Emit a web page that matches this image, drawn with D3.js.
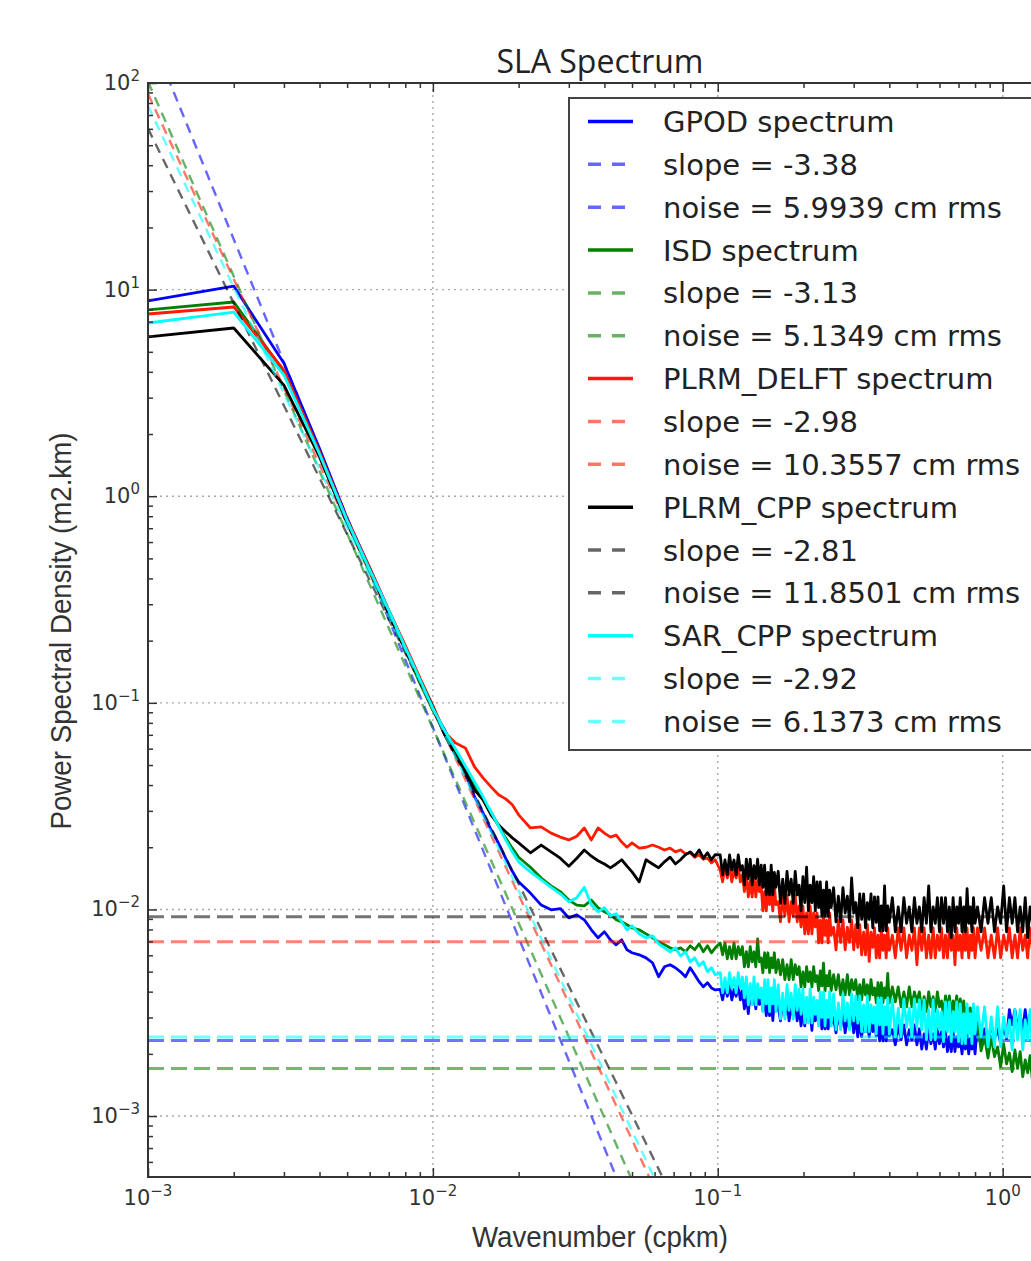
<!DOCTYPE html>
<html>
<head>
<meta charset="utf-8">
<script src="https://cdn.jsdelivr.net/npm/d3@7"></script>
<style>
  html, body { margin: 0; padding: 0; background: #fff; }
  svg { display: block; }
</style>
</head>
<body>
<div id="chart"></div>
<script>
// --- data ---
// wavenumber bins (cpkm)
const wavenumber = [
  0.001, 0.002, 0.003, 0.004, 0.005, 0.006, 0.007, 0.008, 0.009, 0.010,
  0.011, 0.012, 0.013, 0.014, 0.015, 0.016, 0.017, 0.018, 0.019, 0.020,
  0.022, 0.024, 0.026, 0.028, 0.030, 0.032, 0.034, 0.036, 0.038, 0.040, 0.042, 0.044, 0.046, 0.048, 0.050,
  0.053, 0.056, 0.059, 0.062, 0.065, 0.068, 0.071, 0.074, 0.077, 0.080, 0.083, 0.086, 0.089, 0.092, 0.095, 0.098,
  0.102, 0.104, 0.106, 0.108, 0.110, 0.112, 0.114, 0.116, 0.118, 0.120,
  0.122, 0.124, 0.126, 0.128, 0.130, 0.132, 0.134, 0.136, 0.138, 0.140,
  0.142, 0.144, 0.146, 0.148, 0.150, 0.152, 0.154, 0.156, 0.158, 0.160,
  0.163, 0.166, 0.169, 0.172, 0.175, 0.178, 0.181, 0.184, 0.187, 0.190,
  0.193, 0.196, 0.199, 0.202, 0.205, 0.208, 0.211, 0.214, 0.217, 0.220,
  0.223, 0.226, 0.229, 0.232, 0.235, 0.238, 0.241, 0.244, 0.247, 0.250,
  0.255, 0.260, 0.265, 0.270, 0.275, 0.280, 0.285, 0.290, 0.295, 0.300,
  0.305, 0.310, 0.315, 0.320, 0.325, 0.330, 0.335, 0.340, 0.345, 0.350,
  0.355, 0.360, 0.365, 0.370, 0.375, 0.380, 0.385, 0.390, 0.395, 0.400,
  0.41, 0.42, 0.43, 0.44, 0.45, 0.46, 0.47, 0.48, 0.49, 0.50,
  0.51, 0.52, 0.53, 0.54, 0.55, 0.56, 0.57, 0.58, 0.59, 0.60,
  0.61, 0.62, 0.63, 0.64, 0.65, 0.66, 0.67, 0.68, 0.69, 0.70,
  0.71, 0.72, 0.73, 0.74, 0.75, 0.76, 0.77, 0.78, 0.79, 0.80,
  0.816, 0.840, 0.864, 0.888, 0.912, 0.936, 0.960, 0.984, 1.008, 1.032,
  1.056, 1.080, 1.104, 1.128, 1.152, 1.176, 1.200, 1.224, 1.248, 1.272
];

// PSD (m2.km) per product
const gpodPsd = [
  8.81, 10.4, 4.40, 1.70, 0.78, 0.45, 0.28, 0.185, 0.128, 0.093,
  0.0740, 0.0579, 0.0458, 0.0351, 0.0293, 0.0243, 0.0209, 0.0177, 0.0153, 0.0136,
  0.0120, 0.0105, 0.00996, 0.0101, 0.0091, 0.00942, 0.00891, 0.00797, 0.00729, 0.0078, 0.00713, 0.00674, 0.00713, 0.00638, 0.00617,
  0.00603, 0.00583, 0.00552, 0.00472, 0.00528, 0.00540, 0.00522, 0.00499, 0.00472, 0.00522, 0.00483, 0.00447, 0.00422, 0.00442, 0.00417, 0.00408,
  0.00410, 0.00365, 0.00427, 0.00380, 0.00427, 0.00365, 0.00410, 0.00380, 0.00427, 0.00365,
  0.00404, 0.00330, 0.00384, 0.00313, 0.00404, 0.00347, 0.00384, 0.00330, 0.00404, 0.00347,
  0.00382, 0.00323, 0.00382, 0.00306, 0.00361, 0.00306, 0.00382, 0.00290, 0.00361, 0.00323,
  0.00341, 0.00289, 0.00361, 0.00306, 0.00361, 0.00289, 0.00341, 0.00306, 0.00361, 0.00289,
  0.00341, 0.00273, 0.00323, 0.00273, 0.00341, 0.00289, 0.00323, 0.00260, 0.00341, 0.00289,
  0.00330, 0.00279, 0.00330, 0.00264, 0.00313, 0.00264, 0.00330, 0.00264, 0.00313, 0.00279,
  0.00299, 0.00253, 0.00316, 0.00267, 0.00316, 0.00253, 0.00299, 0.00267, 0.00316, 0.00253,
  0.00302, 0.00242, 0.00286, 0.00242, 0.00302, 0.00256, 0.00286, 0.00242, 0.00302, 0.00256,
  0.00289, 0.00244, 0.00289, 0.00231, 0.00273, 0.00231, 0.00289, 0.00231, 0.00273, 0.00244,
  0.00262, 0.00221, 0.00276, 0.00234, 0.00276, 0.00221, 0.00262, 0.00234, 0.00276, 0.00221,
  0.00264, 0.00211, 0.00250, 0.00211, 0.00264, 0.00224, 0.00250, 0.00211, 0.00264, 0.00224,
  0.00256, 0.00216, 0.00256, 0.00205, 0.00242, 0.00205, 0.00256, 0.00205, 0.00242, 0.00216,
  0.00237, 0.00200, 0.00250, 0.00211, 0.00250, 0.00200, 0.00237, 0.00211, 0.00250, 0.00200,
  0.00279, 0.00224, 0.00264, 0.00224, 0.00279, 0.00237, 0.00264, 0.00224, 0.00279, 0.00237,
  0.00327, 0.00276, 0.00327, 0.00262, 0.00309, 0.00262, 0.00327, 0.00262, 0.00309, 0.00276
];

const isdPsd = [
  7.97, 8.71, 4.01, 1.62, 0.75, 0.43, 0.27, 0.18, 0.125, 0.092,
  0.0716, 0.0592, 0.0490, 0.0401, 0.0339, 0.0296, 0.0254, 0.0222, 0.0198, 0.0179,
  0.0160, 0.0142, 0.0130, 0.0122, 0.0111, 0.0105, 0.0104, 0.0111, 0.0102, 0.00974, 0.00942, 0.00891, 0.00871, 0.00843, 0.00815,
  0.00797, 0.00762, 0.00729, 0.00697, 0.00674, 0.00652, 0.00638, 0.00652, 0.00624, 0.00667, 0.00638, 0.00682, 0.00624, 0.00667, 0.00617, 0.00652,
  0.00689, 0.00603, 0.00689, 0.00577, 0.00660, 0.00577, 0.00689, 0.00577, 0.00660, 0.00603,
  0.00660, 0.00528, 0.00624, 0.00528, 0.00660, 0.00558, 0.00624, 0.00528, 0.00720, 0.00558,
  0.00583, 0.00494, 0.00617, 0.00522, 0.00617, 0.00494, 0.00583, 0.00522, 0.00617, 0.00494,
  0.00571, 0.00483, 0.00571, 0.00457, 0.00540, 0.00457, 0.00571, 0.00457, 0.00540, 0.00483,
  0.00528, 0.00422, 0.00499, 0.00422, 0.00528, 0.00447, 0.00499, 0.00422, 0.00528, 0.00447,
  0.00478, 0.00404, 0.00504, 0.00427, 0.00550, 0.00404, 0.00478, 0.00427, 0.00504, 0.00404,
  0.00483, 0.00408, 0.00483, 0.00386, 0.00457, 0.00386, 0.00483, 0.00386, 0.00457, 0.00408,
  0.00457, 0.00365, 0.00432, 0.00365, 0.00457, 0.00386, 0.00432, 0.00365, 0.00457, 0.00386,
  0.00417, 0.00353, 0.00442, 0.00373, 0.00442, 0.00353, 0.00417, 0.00373, 0.00490, 0.00353,
  0.00422, 0.00357, 0.00422, 0.00338, 0.00399, 0.00338, 0.00422, 0.00338, 0.00399, 0.00357,
  0.00399, 0.00320, 0.00378, 0.00320, 0.00399, 0.00338, 0.00378, 0.00320, 0.00399, 0.00338,
  0.00361, 0.00306, 0.00382, 0.00323, 0.00382, 0.00306, 0.00361, 0.00323, 0.00382, 0.00306,
  0.00369, 0.00309, 0.00361, 0.00286, 0.00334, 0.00276, 0.00334, 0.00259, 0.00295, 0.00256,
  0.00286, 0.00207, 0.00242, 0.00191, 0.00242, 0.00194, 0.00216, 0.00173, 0.00224, 0.00179,
  0.00202, 0.00164, 0.00209, 0.00170, 0.00205, 0.00155, 0.00187, 0.00162, 0.00196, 0.00148
];

const plrmDelftPsd = [
  7.62, 8.24, 4.08, 1.64, 0.77, 0.45, 0.28, 0.19, 0.132, 0.097,
  0.0720, 0.0640, 0.0605, 0.0490, 0.0433, 0.0392, 0.0359, 0.0343, 0.0321, 0.0287,
  0.0248, 0.0251, 0.0234, 0.0224, 0.0217, 0.0226, 0.0248, 0.0217, 0.0248, 0.0234, 0.0224, 0.0229, 0.0212, 0.0200, 0.0210,
  0.0198, 0.0200, 0.0205, 0.0200, 0.0194, 0.0198, 0.0190, 0.0194, 0.0186, 0.0188, 0.0179, 0.0184, 0.0175, 0.0177, 0.0168, 0.0174,
  0.0155, 0.0136, 0.0162, 0.0142, 0.0162, 0.0136, 0.0155, 0.0142, 0.0162, 0.0136,
  0.0147, 0.0122, 0.0147, 0.0115, 0.0138, 0.0115, 0.0147, 0.0115, 0.0138, 0.0122,
  0.01315, 0.00985, 0.0122, 0.00985, 0.01315, 0.01055, 0.0122, 0.00985, 0.01315, 0.01055,
  0.0109, 0.00872, 0.01175, 0.00932, 0.01175, 0.00872, 0.0109, 0.00932, 0.01175, 0.00872,
  0.0104, 0.00824, 0.0104, 0.00762, 0.00963, 0.00762, 0.0104, 0.00762, 0.00963, 0.00824,
  0.00963, 0.00689, 0.00886, 0.00689, 0.00963, 0.00750, 0.00886, 0.00689, 0.00963, 0.00750,
  0.00820, 0.00638, 0.00891, 0.00693, 0.00891, 0.00638, 0.00820, 0.00693, 0.00891, 0.00638,
  0.00843, 0.00656, 0.00843, 0.00603, 0.00776, 0.00603, 0.00843, 0.00560, 0.00776, 0.00656,
  0.00815, 0.00583, 0.00750, 0.00583, 0.00815, 0.00634, 0.00750, 0.00583, 0.00815, 0.00634,
  0.00750, 0.00583, 0.00815, 0.00634, 0.00815, 0.00583, 0.00750, 0.00634, 0.00815, 0.00540,
  0.00815, 0.00634, 0.00815, 0.00583, 0.00750, 0.00583, 0.00815, 0.00583, 0.00750, 0.00634,
  0.00815, 0.00583, 0.00750, 0.00583, 0.00815, 0.00634, 0.00750, 0.00540, 0.00815, 0.00634,
  0.00750, 0.00583, 0.00815, 0.00634, 0.00815, 0.00583, 0.00750, 0.00634, 0.00815, 0.00583,
  0.00815, 0.00634, 0.00815, 0.00583, 0.00750, 0.00583, 0.00815, 0.00583, 0.00750, 0.00634,
  0.00815, 0.00583, 0.00750, 0.00583, 0.00815, 0.00634, 0.00750, 0.00583, 0.00815, 0.00634
];

const plrmCppPsd = [
  5.90, 6.52, 3.45, 1.55, 0.74, 0.44, 0.27, 0.18, 0.13, 0.095,
  0.0700, 0.0560, 0.0464, 0.0379, 0.0339, 0.0287, 0.0257, 0.0238, 0.0222, 0.0210,
  0.0188, 0.0205, 0.0190, 0.0177, 0.0162, 0.0177, 0.0194, 0.0181, 0.0172, 0.0166, 0.0159, 0.0166, 0.0174, 0.0162, 0.0152,
  0.0136, 0.0174, 0.0166, 0.0159, 0.0170, 0.0179, 0.0166, 0.0174, 0.0184, 0.0190, 0.0181, 0.0194, 0.0177, 0.0188, 0.0174, 0.0184,
  0.01835, 0.0147, 0.01735, 0.0147, 0.01835, 0.0155, 0.01735, 0.0147, 0.01835, 0.0155,
  0.0163, 0.01315, 0.0175, 0.0141, 0.0175, 0.01315, 0.0163, 0.0141, 0.0175, 0.01315,
  0.0164, 0.0128, 0.0164, 0.01175, 0.0151, 0.01175, 0.0164, 0.01175, 0.0151, 0.0128,
  0.0153, 0.0107, 0.0140, 0.0107, 0.0153, 0.01175, 0.0140, 0.0107, 0.0153, 0.01175,
  0.0131, 0.00985, 0.0144, 0.0108, 0.0160, 0.00985, 0.0131, 0.0108, 0.0144, 0.00985,
  0.0136, 0.0102, 0.0136, 0.00932, 0.0124, 0.00932, 0.0136, 0.00932, 0.0124, 0.0102,
  0.01275, 0.00871, 0.0116, 0.00871, 0.01275, 0.0096, 0.0116, 0.00871, 0.0142, 0.0096,
  0.0108, 0.00815, 0.0119, 0.00896, 0.0119, 0.00815, 0.0108, 0.00896, 0.0119, 0.00815,
  0.0115, 0.00866, 0.0115, 0.00788, 0.0104, 0.00788, 0.0130, 0.00788, 0.0104, 0.00866,
  0.0114, 0.00780, 0.0103, 0.00780, 0.0114, 0.00857, 0.0103, 0.00780, 0.0114, 0.00857,
  0.0103, 0.00780, 0.0114, 0.00857, 0.0130, 0.00780, 0.0103, 0.00857, 0.0114, 0.00780,
  0.0114, 0.00857, 0.0114, 0.00780, 0.0103, 0.00730, 0.0114, 0.00780, 0.0103, 0.00857,
  0.0114, 0.00780, 0.0103, 0.00780, 0.0126, 0.00857, 0.0103, 0.00780, 0.0114, 0.00857,
  0.0103, 0.00780, 0.0114, 0.00857, 0.0114, 0.00780, 0.0103, 0.00857, 0.0130, 0.00780,
  0.0114, 0.00857, 0.0114, 0.00780, 0.0103, 0.00780, 0.0114, 0.00730, 0.0103, 0.00857
];

const sarCppPsd = [
  6.89, 7.79, 3.86, 1.60, 0.76, 0.44, 0.28, 0.185, 0.13, 0.094,
  0.0732, 0.0599, 0.0495, 0.0415, 0.0351, 0.0296, 0.0254, 0.0217, 0.0190, 0.0170,
  0.0152, 0.0139, 0.0128, 0.0119, 0.0109, 0.0114, 0.0128, 0.0105, 0.00974, 0.0102, 0.00932, 0.00953, 0.00871, 0.00797, 0.00834,
  0.00762, 0.00729, 0.00746, 0.00682, 0.00652, 0.00624, 0.00652, 0.00596, 0.00624, 0.00558, 0.00583, 0.00534, 0.00558, 0.00499, 0.00522, 0.00483,
  0.00494, 0.00395, 0.00467, 0.00395, 0.00494, 0.00417, 0.00467, 0.00395, 0.00494, 0.00417,
  0.00472, 0.00373, 0.00472, 0.00345, 0.00437, 0.00345, 0.00472, 0.00345, 0.00437, 0.00373,
  0.00417, 0.00320, 0.00457, 0.00349, 0.00457, 0.00320, 0.00417, 0.00349, 0.00457, 0.00320,
  0.00432, 0.00295, 0.00393, 0.00295, 0.00432, 0.00325, 0.00393, 0.00295, 0.00432, 0.00325,
  0.00413, 0.00311, 0.00413, 0.00282, 0.00376, 0.00282, 0.00413, 0.00282, 0.00376, 0.00311,
  0.00363, 0.00273, 0.00399, 0.00300, 0.00399, 0.00273, 0.00363, 0.00300, 0.00399, 0.00273,
  0.00390, 0.00262, 0.00353, 0.00262, 0.00390, 0.00289, 0.00353, 0.00262, 0.00390, 0.00289,
  0.00382, 0.00282, 0.00382, 0.00256, 0.00345, 0.00256, 0.00382, 0.00256, 0.00345, 0.00282,
  0.00338, 0.00250, 0.00373, 0.00276, 0.00373, 0.00250, 0.00338, 0.00276, 0.00373, 0.00250,
  0.00369, 0.00242, 0.00332, 0.00242, 0.00369, 0.00269, 0.00332, 0.00242, 0.00369, 0.00269,
  0.00365, 0.00262, 0.00365, 0.00234, 0.00327, 0.00234, 0.00365, 0.00234, 0.00327, 0.00262,
  0.00320, 0.00229, 0.00357, 0.00256, 0.00357, 0.00229, 0.00320, 0.00256, 0.00357, 0.00229,
  0.00349, 0.00224, 0.00313, 0.00224, 0.00349, 0.00250, 0.00313, 0.00224, 0.00349, 0.00250,
  0.00338, 0.00242, 0.00338, 0.00216, 0.00302, 0.00216, 0.00338, 0.00216, 0.00302, 0.00242,
  0.00292, 0.00209, 0.00327, 0.00234, 0.00327, 0.00209, 0.00292, 0.00234, 0.00327, 0.00209
];

const productNames = ["GPOD", "ISD", "PLRM_DELFT", "PLRM_CPP", "SAR_CPP"];
const fitSlopes = [-3.38, -3.13, -2.98, -2.81, -2.92];
const fitAt001 = [0.0760, 0.0753, 0.0929, 0.0933, 0.0933];   // fitted PSD at 0.01 cpkm
const noiseRms = [5.9939, 5.1349, 10.3557, 11.8501, 6.1373]; // cm rms
const noiseLevel = [0.00232, 0.00170, 0.00697, 0.00921, 0.00241];

const xTickValues = [1e-3, 1e-2, 1e-1, 1e0];
const xTickExps = [-3, -2, -1, 0];
const yTickValues = [1e-3, 1e-2, 1e-1, 1e0, 1e1, 1e2];
const yTickExps = [-3, -2, -1, 0, 1, 2];

// --- styles ---
const colors = ["#0000ff", "#008000", "#ff1a00", "#000000", "#00ffff"];
const psdSeries = [gpodPsd, isdPsd, plrmDelftPsd, plrmCppPsd, sarCppPsd];

const W = 1031, H = 1261;
const plot = { left: 148, top: 83, right: 1052, bottom: 1177 };
const axisColor = "#333";

const svg = d3.select("#chart").append("svg")
    .attr("width", W)
    .attr("height", H)
    .style("font-family", "'DejaVu Sans', sans-serif");

const x = d3.scaleLog().domain([1e-3, 1.49]).range([plot.left, plot.right]);
const y = d3.scaleLog().domain([5.07e-4, 100]).range([plot.bottom, plot.top]);

svg.append("defs").append("clipPath").attr("id", "plot-clip")
    .append("rect")
    .attr("x", plot.left).attr("y", plot.top)
    .attr("width", plot.right - plot.left).attr("height", plot.bottom - plot.top);

// grid (major decades only, dotted)
const grid = svg.append("g").attr("class", "grid")
    .attr("stroke", "#a8a8a8").attr("stroke-width", 1.4).attr("stroke-dasharray", "2,4");
grid.selectAll("line.gx").data(xTickValues.slice(1)).join("line")
    .attr("x1", d => x(d)).attr("x2", d => x(d))
    .attr("y1", plot.top).attr("y2", plot.bottom);
grid.selectAll("line.gy").data(yTickValues.slice(0, -1)).join("line")
    .attr("x1", plot.left).attr("x2", plot.right)
    .attr("y1", d => y(d)).attr("y2", d => y(d));

// --- spectra, fits and noise floors ---
const plotArea = svg.append("g").attr("clip-path", "url(#plot-clip)");
const line = d3.line().x(d => x(d[0])).y(d => y(d[1]));
const kEnds = x.domain();

psdSeries.forEach((psd, i) => {
    const pts = wavenumber.map((k, j) => [k, psd[j]]);
    plotArea.append("path")
        .datum(pts)
        .attr("fill", "none")
        .attr("stroke", colors[i])
        .attr("stroke-width", 2.8)
        .attr("stroke-linejoin", "round")
        .attr("d", line);

    // power-law fit: PSD = fitAt001 * (k / 0.01)^slope
    const fit = kEnds.map(k => [k, fitAt001[i] * Math.pow(k / 0.01, fitSlopes[i])]);
    plotArea.append("path")
        .datum(fit)
        .attr("fill", "none")
        .attr("stroke", colors[i])
        .attr("stroke-opacity", 0.6)
        .attr("stroke-width", 2.4)
        .attr("stroke-dasharray", "10,7")
        .attr("d", line);

    plotArea.append("path")
        .datum(kEnds.map(k => [k, noiseLevel[i]]))
        .attr("fill", "none")
        .attr("stroke", colors[i])
        .attr("stroke-opacity", 0.55)
        .attr("stroke-width", 3)
        .attr("stroke-dasharray", "16,7")
        .attr("d", line);
});

// --- axes: ticks inward on all four sides ---
function minorTicks(scale) {
    const [a, b] = scale.domain();
    const out = [];
    for (let e = Math.floor(Math.log10(a)); e <= Math.ceil(Math.log10(b)); e++) {
        for (let m = 2; m <= 9; m++) {
            const v = m * Math.pow(10, e);
            if (v > a && v < b) out.push(v);
        }
    }
    return out;
}

function addAxis(axisFn, scale, values, size, transform) {
    svg.append("g")
        .attr("transform", transform)
        .call(axisFn(scale).tickValues(values).tickSize(size).tickSizeOuter(0).tickFormat(""))
        .call(g => g.select(".domain").remove())
        .call(g => g.selectAll(".tick line").attr("stroke", axisColor).attr("stroke-width", 1.5));
}

addAxis(d3.axisBottom, x, xTickValues, -9, `translate(0,${plot.bottom})`);
addAxis(d3.axisBottom, x, minorTicks(x), -5, `translate(0,${plot.bottom})`);
addAxis(d3.axisTop, x, xTickValues, -9, `translate(0,${plot.top})`);
addAxis(d3.axisTop, x, minorTicks(x), -5, `translate(0,${plot.top})`);
addAxis(d3.axisLeft, y, yTickValues, -9, `translate(${plot.left},0)`);
addAxis(d3.axisLeft, y, minorTicks(y), -5, `translate(${plot.left},0)`);
addAxis(d3.axisRight, y, yTickValues, -9, `translate(${plot.right},0)`);
addAxis(d3.axisRight, y, minorTicks(y), -5, `translate(${plot.right},0)`);

svg.append("rect")
    .attr("x", plot.left).attr("y", plot.top)
    .attr("width", plot.right - plot.left).attr("height", plot.bottom - plot.top)
    .attr("fill", "none").attr("stroke", axisColor).attr("stroke-width", 2);

function powerLabel(sel, exp) {
    sel.append("tspan").text("10");
    sel.append("tspan").attr("dy", -9).attr("font-size", 15)
        .text(exp < 0 ? "\u2212" + (-exp) : String(exp));
}

svg.append("g").selectAll("text").data(xTickValues).join("text")
    .attr("x", d => x(d))
    .attr("y", plot.bottom + 28)
    .attr("text-anchor", "middle")
    .attr("font-size", 21)
    .attr("fill", axisColor)
    .each(function (d, i) { powerLabel(d3.select(this), xTickExps[i]); });

svg.append("g").selectAll("text").data(yTickValues).join("text")
    .attr("x", plot.left - 8)
    .attr("y", d => y(d) + 7)
    .attr("text-anchor", "end")
    .attr("font-size", 21)
    .attr("fill", axisColor)
    .each(function (d, i) { powerLabel(d3.select(this), yTickExps[i]); });

// axis titles (condensed face in the original, squeezed to its width)
svg.append("text")
    .attr("x", (plot.left + plot.right) / 2)
    .attr("y", 1247)
    .attr("text-anchor", "middle")
    .style("font-family", "'Liberation Sans', Arial, sans-serif")
    .attr("font-size", 29)
    .attr("textLength", 256)
    .attr("lengthAdjust", "spacingAndGlyphs")
    .attr("fill", axisColor)
    .text("Wavenumber (cpkm)");

svg.append("text")
    .attr("transform", "translate(71,631) rotate(-90)")
    .attr("text-anchor", "middle")
    .style("font-family", "'Liberation Sans', Arial, sans-serif")
    .attr("font-size", 29)
    .attr("textLength", 397)
    .attr("lengthAdjust", "spacingAndGlyphs")
    .attr("fill", axisColor)
    .text("Power Spectral Density (m2.km)");

svg.append("text")
    .attr("x", (plot.left + plot.right) / 2)
    .attr("y", 73)
    .attr("text-anchor", "middle")
    .style("font-family", "'Open Sans', sans-serif")
    .attr("font-size", 32)
    .attr("fill", "#222")
    .text("SLA Spectrum");

// --- legend ---
const legendRows = [];
productNames.forEach((name, i) => {
    legendRows.push({ color: colors[i], dashed: false, label: `${name} spectrum` });
    legendRows.push({ color: colors[i], dashed: true, label: `slope = ${fitSlopes[i].toFixed(2)}` });
    legendRows.push({ color: colors[i], dashed: true, label: `noise = ${noiseRms[i].toFixed(4)} cm rms` });
});

const legend = svg.append("g").attr("class", "legend");
legend.append("rect")
    .attr("x", 569).attr("y", 98)
    .attr("width", 520).attr("height", 652)
    .attr("fill", "#fff")
    .attr("stroke", "#444")
    .attr("stroke-width", 2);

const rowY = i => 121.5 + i * 42.85;
const rows = legend.selectAll("g.row").data(legendRows).join("g")
    .attr("transform", (d, i) => `translate(0,${rowY(i)})`);

rows.append("line")
    .attr("x1", 588).attr("x2", 633)
    .attr("stroke", d => d.color)
    .attr("stroke-opacity", d => d.dashed ? 0.6 : 1)
    .attr("stroke-width", 3.5)
    .attr("stroke-dasharray", d => d.dashed ? "13,11" : null);

rows.append("text")
    .attr("x", 663)
    .attr("y", 10.5)
    .attr("font-size", 29)
    .attr("fill", "#222")
    .text(d => d.label);
</script>
</body>
</html>
